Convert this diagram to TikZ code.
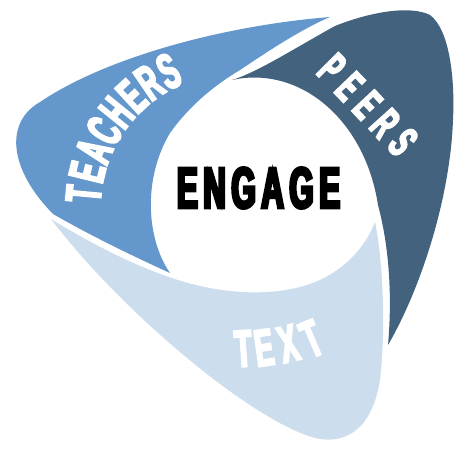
\documentclass[tikz,border=0pt]{standalone}
\usepackage{fontspec}
\newfontfamily\engfont[FakeStretch=0.54,FakeBold=5]{Liberation Sans}
\newfontfamily\labfont[FakeStretch=0.53,FakeBold=4]{Liberation Sans}
\definecolor{teachcol}{HTML}{6498CD}
\definecolor{peercol}{HTML}{43627D}
\definecolor{textcol}{HTML}{CCDEEE}
\tikzset{
  lab/.style={text=white, inner sep=0pt, outer sep=0pt},
  teachlab/.style={lab, font=\labfont\bfseries\fontsize{50}{50}\selectfont},
  peerlab/.style={lab, font=\labfont\bfseries\fontsize{45}{45}\selectfont},
  textlab/.style={lab, font=\labfont\bfseries\fontsize{52}{52}\selectfont},
  englab/.style={text=black, inner sep=0pt, font=\engfont\bfseries\fontsize{58}{58}\selectfont}
}
\begin{document}
\begin{tikzpicture}[x=1pt,y=-1pt]
\useasboundingbox (0,0) rectangle (474,455);
% TEACHERS band
\fill[teachcol] (330,17) .. controls (230,25) and (110,55) .. (40,102)
  .. controls (5,122) and (8,168) .. (53,214)
  .. controls (95,238) and (135,257) .. (170,273)
  .. controls (147,240) and (142,180) .. (170,133)
  .. controls (190,105) and (215,85) .. (240,70)
  .. controls (270,50) and (300,30) .. (330,17) -- cycle;
% PEERS band
\fill[peercol] (232,80) .. controls (258,72) and (295,48) .. (335,26)
  .. controls (370,12) and (410,5) .. (430,15)
  .. controls (450,30) and (455,80) .. (453,120)
  .. controls (450,200) and (420,290) .. (388,345)
  .. controls (392,300) and (390,250) .. (378,205)
  .. controls (365,120) and (300,65) .. (232,80) -- cycle;
% TEXT band
\fill[textcol] (51,219) .. controls (90,243) and (135,266) .. (172,278)
  .. controls (215,293) and (275,300) .. (320,280)
  .. controls (345,268) and (365,248) .. (375,222)
  .. controls (383,260) and (386,330) .. (380,380)
  .. controls (372,430) and (345,445) .. (315,438)
  .. controls (250,420) and (120,310) .. (51,219) -- cycle;
% centre word
\node[englab] (engage) at (258.5,188) {E\kern5.5pt N\kern5.5pt G\kern5.5pt A\kern5.5pt G\kern5.5pt E};
% TEACHERS letters
\foreach \ch/\a [count=\i] in {T/174.7,E/166.3,A/157.9,C/149.5,H/141.1,E/132.7,R/124.3,S/115.9}
  \node[teachlab, rotate=\a-90] (teach\i) at ({235+152*cos(\a)},{208-152*sin(\a)}) {\ch};
% PEERS letters
\foreach \ch/\x/\y/\r [count=\i] in {P/332/68/-45,E/349.75/86.5/-46,E/367.5/105/-47,R/385.25/123.5/-48,S/403/142/-50}
  \node[peerlab, rotate=\r] (peer\i) at (\x,\y) {\ch};
% TEXT letters
\foreach \ch/\x/\y/\r [count=\i] in {T/243.3/348.7/4,E/264/347.7/8,X/288.3/343.7/14,T/311.7/338.7/23}
  \node[textlab, rotate=\r] (text\i) at (\x,\y) {\ch};
\end{tikzpicture}
\end{document}
